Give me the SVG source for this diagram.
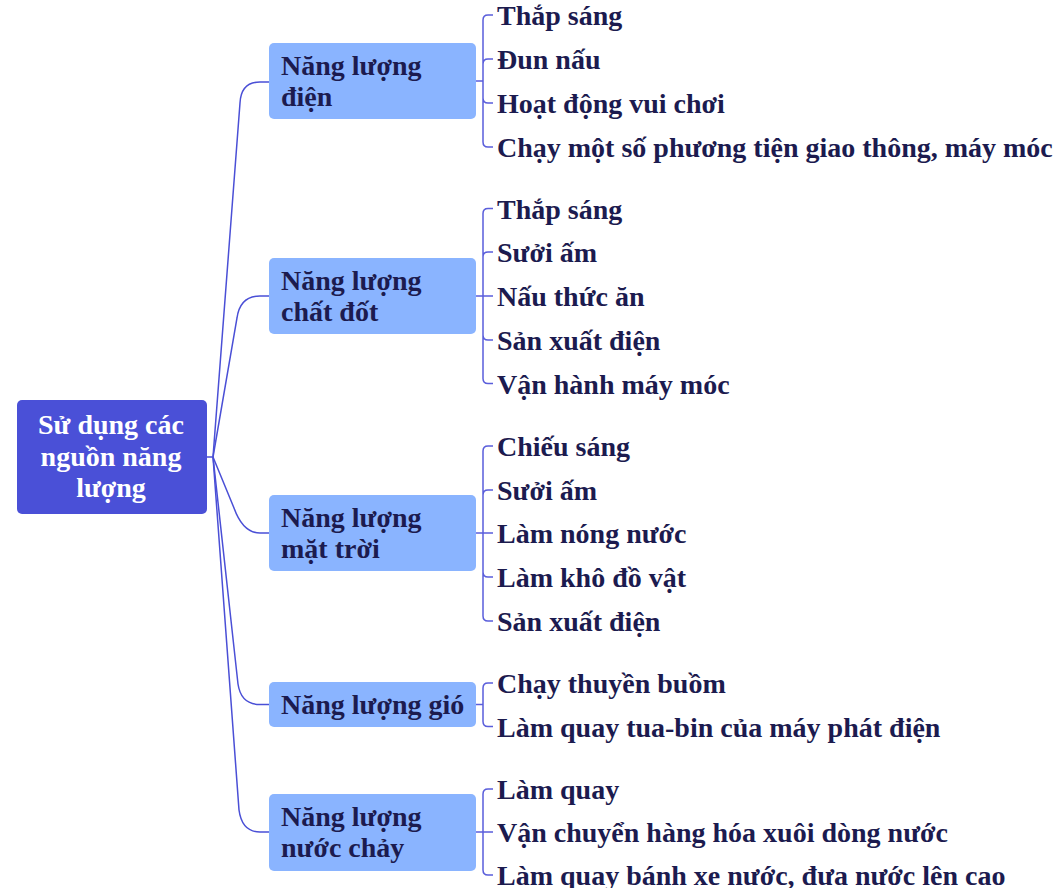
<svg xmlns="http://www.w3.org/2000/svg" width="1058" height="888" viewBox="0 0 1058 888">
<style>
text{font-family:"Liberation Serif","Times New Roman",serif;font-weight:bold;font-size:28px}
.root rect{fill:#4a50d7}
.root text{fill:#ffffff;text-anchor:middle}
.cat rect{fill:#8ab4ff}
.cat text,.leaf{fill:#1c1b4f}
.c0{fill:none;stroke:#4a4fd6;stroke-width:1.5}
.c1{fill:none;stroke:#5a5edb;stroke-width:1.5}
</style>
<rect width="1058" height="888" fill="#ffffff"/>
<g id="connectors">
<path class="c0" d="M206,457 H213 L240,103 Q241,82 260,82 H269"/>
<path class="c0" d="M213,457 L237,318 Q240,296 260,296 H269"/>
<path class="c0" d="M213,457 L234,508 Q243,533 260,533 H269"/>
<path class="c0" d="M213,457 L238,684 Q241,704.5 260,704.5 H269"/>
<path class="c0" d="M213,457 L239,810 Q242,832 260,832 H269"/>
<path class="c1" d="M476,81 H483 V20 Q483,15 488,15 H493 M483,81 V64 Q483,59 488,59 H493 M483,81 V98 Q483,103 488,103 H493 M483,81 V142 Q483,147 488,147 H493"/>
<path class="c1" d="M476,296 H483 V213.5 Q483,208.5 488,208.5 H493 M483,296 V257 Q483,252 488,252 H493 M483,296 H493 M483,296 V335 Q483,340 488,340 H493 M483,296 V378.5 Q483,383.5 488,383.5 H493"/>
<path class="c1" d="M476,533 H483 V451 Q483,446 488,446 H493 M483,533 V495 Q483,490 488,490 H493 M483,533 H493 M483,533 V572 Q483,577 488,577 H493 M483,533 V616 Q483,621 488,621 H493"/>
<path class="c1" d="M476,704.5 H483 V688 Q483,683 488,683 H493 M483,704.5 V721.5 Q483,726.5 488,726.5 H493"/>
<path class="c1" d="M476,832 H483 V794 Q483,789 488,789 H493 M483,832 H493 M483,832 V870 Q483,875 488,875 H493"/>
</g>
<g id="root" class="root">
<rect x="17" y="400" width="190" height="114" rx="5"/>
<text x="111" y="434">Sử dụng các</text>
<text x="111" y="466">nguồn năng</text>
<text x="111" y="497">lượng</text>
</g>
<g id="cat-dien" class="cat">
<rect x="269" y="43" width="207" height="76" rx="5"/>
<text x="281" y="75">Năng lượng</text>
<text x="281" y="106">điện</text>
</g>
<g id="cat-chatdot" class="cat">
<rect x="269" y="258" width="207" height="76" rx="5"/>
<text x="281" y="290">Năng lượng</text>
<text x="281" y="321">chất đốt</text>
</g>
<g id="cat-mattroi" class="cat">
<rect x="269" y="495" width="207" height="76" rx="5"/>
<text x="281" y="527">Năng lượng</text>
<text x="281" y="558">mặt trời</text>
</g>
<g id="cat-gio" class="cat">
<rect x="269" y="682" width="207" height="45" rx="5"/>
<text x="281" y="714">Năng lượng gió</text>
</g>
<g id="cat-nuoc" class="cat">
<rect x="269" y="794" width="207" height="77" rx="5"/>
<text x="281" y="826">Năng lượng</text>
<text x="281" y="857">nước chảy</text>
</g>
<g id="leaves-dien">
<text class="leaf" x="497" y="25">Thắp sáng</text>
<text class="leaf" x="497" y="69">Đun nấu</text>
<text class="leaf" x="497" y="113">Hoạt động vui chơi</text>
<text class="leaf" x="497" y="157">Chạy một số phương tiện giao thông, máy móc</text>
</g>
<g id="leaves-chatdot">
<text class="leaf" x="497" y="218.5">Thắp sáng</text>
<text class="leaf" x="497" y="262">Sưởi ấm</text>
<text class="leaf" x="497" y="306">Nấu thức ăn</text>
<text class="leaf" x="497" y="350">Sản xuất điện</text>
<text class="leaf" x="497" y="393.5">Vận hành máy móc</text>
</g>
<g id="leaves-mattroi">
<text class="leaf" x="497" y="456">Chiếu sáng</text>
<text class="leaf" x="497" y="500">Sưởi ấm</text>
<text class="leaf" x="497" y="543">Làm nóng nước</text>
<text class="leaf" x="497" y="587">Làm khô đồ vật</text>
<text class="leaf" x="497" y="631">Sản xuất điện</text>
</g>
<g id="leaves-gio">
<text class="leaf" x="497" y="693">Chạy thuyền buồm</text>
<text class="leaf" x="497" y="736.5">Làm quay tua-bin của máy phát điện</text>
</g>
<g id="leaves-nuoc">
<text class="leaf" x="497" y="799">Làm quay</text>
<text class="leaf" x="497" y="842">Vận chuyển hàng hóa xuôi dòng nước</text>
<text class="leaf" x="497" y="885">Làm quay bánh xe nước, đưa nước lên cao</text>
</g>
</svg>
